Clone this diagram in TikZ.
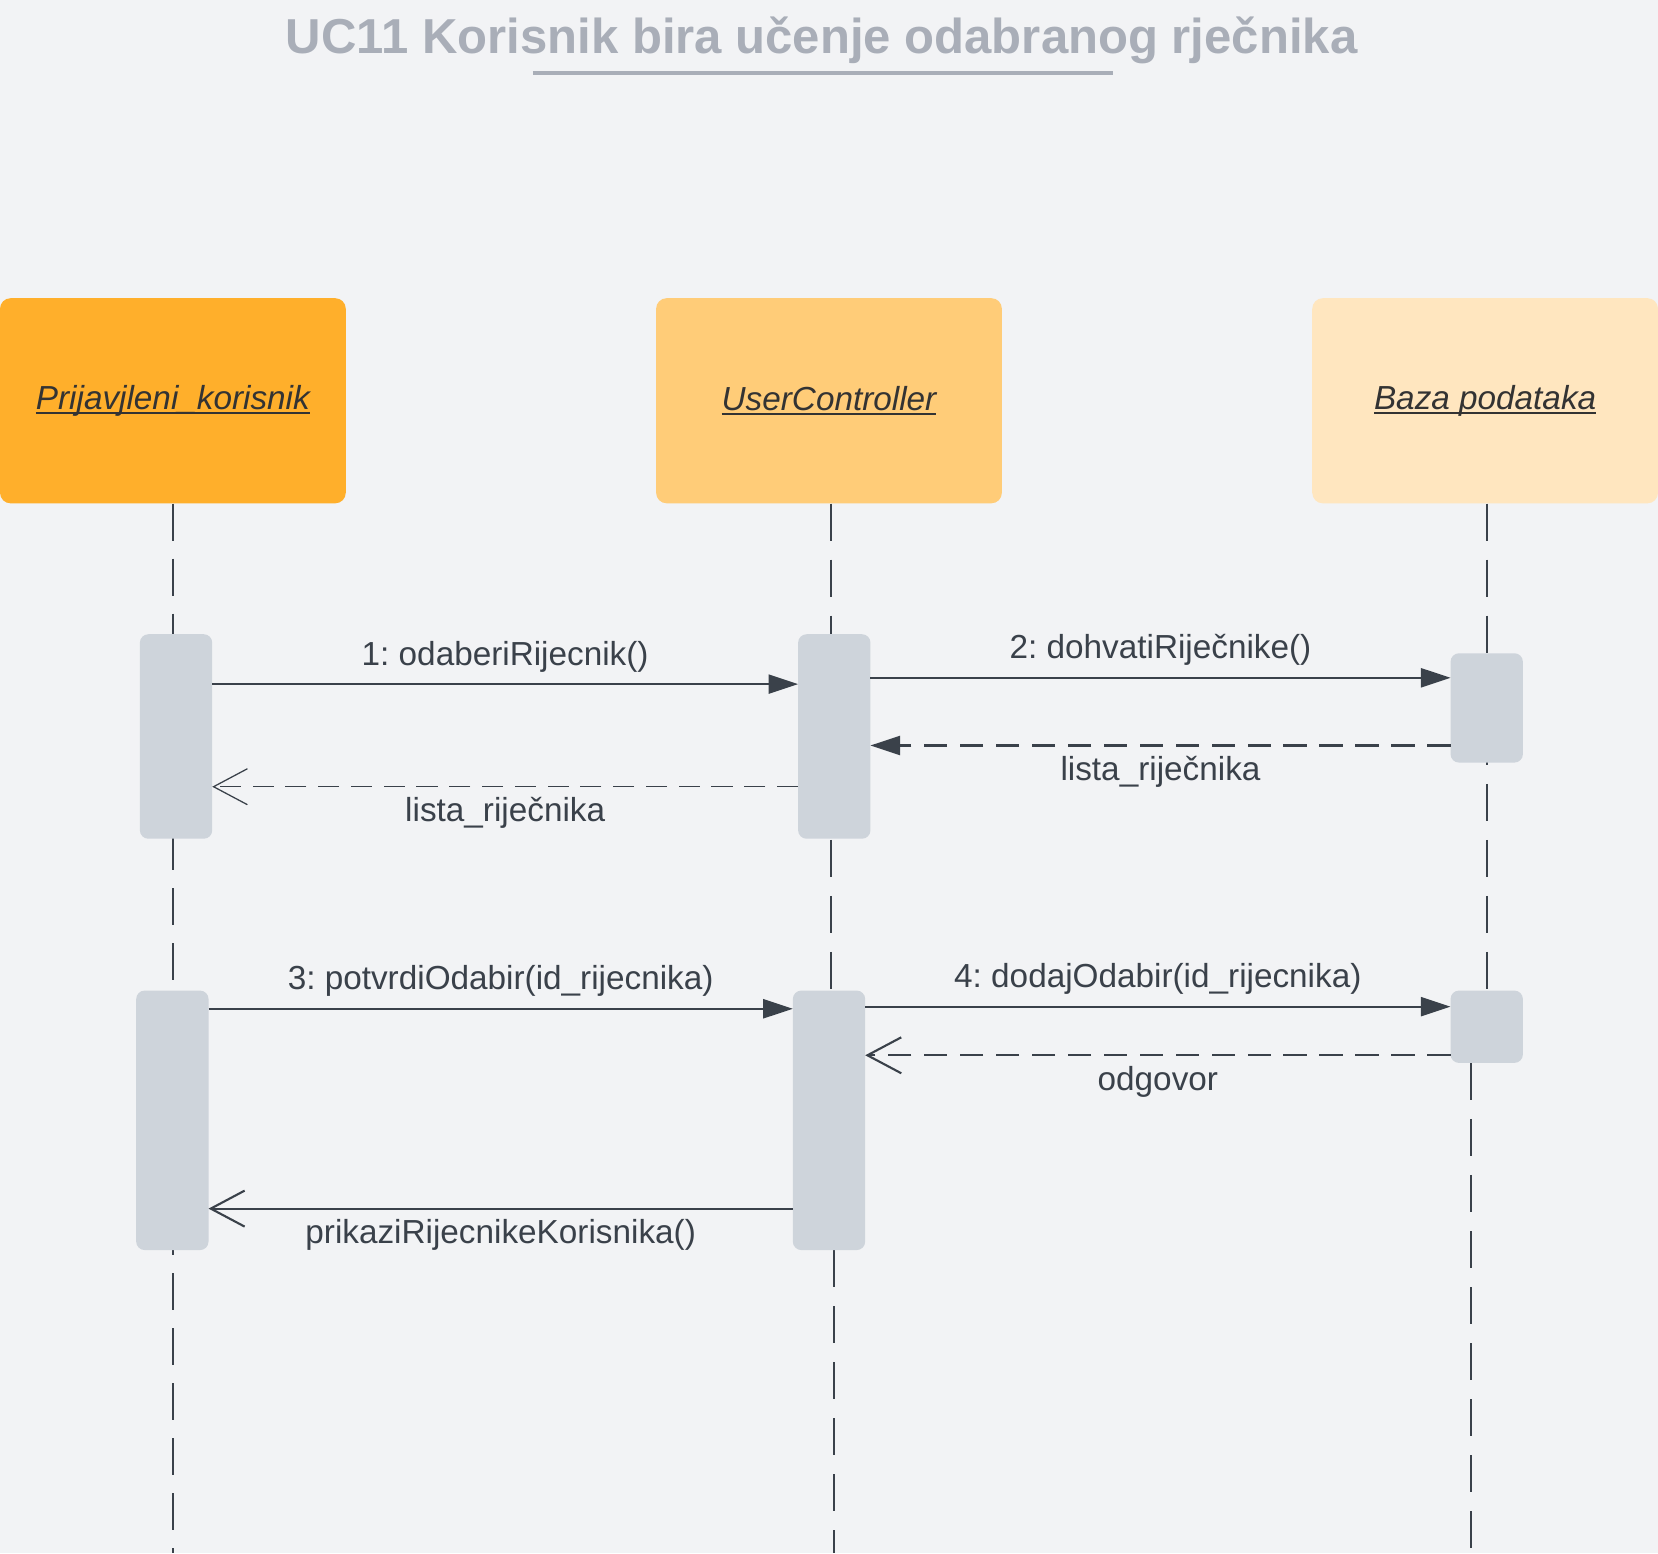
\documentclass[tikz,border=0pt]{standalone}
\usepackage{fontspec}
\setmainfont{Liberation Sans}
\usetikzlibrary{arrows.meta,calc}
\frenchspacing
\definecolor{bgcol}{HTML}{F2F3F5}
\definecolor{orangeA}{HTML}{FFAF2B}
\definecolor{orangeB}{HTML}{FFCC78}
\definecolor{orangeC}{HTML}{FFE6BF}
\definecolor{actcol}{HTML}{CED4DB}
\definecolor{linecol}{HTML}{3A414A}
\definecolor{namecol}{HTML}{333333}
\definecolor{titlecol}{HTML}{A9AEB8}
\newcommand{\labelfont}{\fontsize{31.5}{38}\selectfont}
\newcommand{\titlefont}{\fontsize{46.4}{54}\selectfont\bfseries}
\newsavebox{\objbox}
\newcommand{\objname}[1]{\sbox{\objbox}{\itshape #1}\rlap{\usebox{\objbox}}\rule[-4.3pt]{\wd\objbox}{1.9pt}}
\tikzstyle{participant}=[rectangle,rounded corners=10pt,minimum width=327pt,minimum height=194pt,inner sep=0pt,text=namecol,font=\labelfont]
\tikzstyle{activation}=[rectangle,rounded corners=8pt,fill=actcol,minimum width=68pt,inner sep=0pt]
\tikzstyle{lifeline}=[draw=linecol,line width=2pt,dash pattern=on 35pt off 18pt]
\tikzstyle{call}=[draw=linecol,line width=2pt,-{Triangle[length=28pt,width=18pt]}]
\tikzstyle{reply}=[draw=linecol,line width=2pt,dash pattern=on 22pt off 12pt,-{Straight Barb[length=32pt,width=34pt]}]
\tikzstyle{above label}=[anchor=base,yshift=18pt,text=linecol,font=\labelfont,inner sep=0pt]
\tikzstyle{below label}=[anchor=base,yshift=-33pt,text=linecol,font=\labelfont,inner sep=0pt]
\tikzstyle{title}=[anchor=base,text=titlecol,font=\titlefont,inner sep=0pt]

\begin{document}
\begin{tikzpicture}[x=1pt,y=-1pt]
    % Page and background
    \useasboundingbox (0,0) rectangle (1568,1469);
    \fill[bgcol] (0,0) rectangle (1568,1469);

    % Title
    \node[title] (title) at (777,51) {UC11 Korisnik bira učenje odabranog rječnika};
    \draw[titlecol,line width=3pt] (504,69) -- (1053,69);

    % First we draw the participants
    \foreach \pos/\col/\name/\txt in {{(163.5,379)/orangeA/P1/Prijavjleni\_korisnik},{(784,379)/orangeB/P2/UserController},{(1404.5,379)/orangeC/P3/Baza podataka}}
        \node[participant,fill=\col] (\name) at \pos {\objname{\txt}};

    % Lifeline ends
    \coordinate (e1) at (163.5,1469);
    \coordinate (e2) at (789,1469);
    \coordinate (e3) at (1391,1469);

    % Then the activation bars
    \foreach \pos/\h/\name in {{(166.5,696.5)/193/a1},{(789,696.5)/193/a2},{(1406,669.5)/103/a3},{(163,1059.5)/245/b1},{(784,1059.5)/245/b2},{(1406,971)/68/b3}}
        \path[activation,minimum height=\h pt] node (\name) at \pos {};

    % Lifelines behind the bars
    \draw[lifeline,line width=1.2pt,dash pattern=on 35pt off 17pt] (P1.south) -- (e1);
    \draw[lifeline] ([xshift=2pt]P2.south) -- ([xshift=2pt]P2.south |- b2.north);
    \draw[lifeline] (b2.south -| e2) -- (e2);
    \draw[lifeline] (a3.north |- P3.south) -- (b3.north);
    \draw[lifeline] (b3.south -| e3) -- (e3);

    % Bars again on top of the lifelines
    \foreach \name in {a1,a2,a3,b1,b2,b3}
        \fill[actcol,rounded corners=8pt] (\name.north west) rectangle (\name.south east);

    % Calls
    \foreach \source/\dest/\y/\txt in {a1/a2/647/{1: odaberiRijecnik()},a2/a3/641/{2: dohvatiRiječnike()},b1/b2/954/{3: potvrdiOdabir(id\_rijecnika)},b2/b3/952/{4: dodajOdabir(id\_rijecnika)}}
        \path[call] (\source.east |- 0,\y) -- node[above label] {\txt} (\dest.west |- 0,\y);

    % Replies
    \path[reply,line width=1.2pt,dash pattern=on 20pt off 11pt] (a2.west |- 0,744) -- node[below label] {lista\_riječnika} (a1.east |- 0,744);
    \path[reply,-{Triangle[length=28pt,width=18pt]}] (a3.west |- 0,705) -- node[below label] {lista\_riječnika} (a2.east |- 0,705);
    \path[reply] (b3.west |- 0,998) -- node[below label] {odgovor} (b2.east |- 0,998);
    \path[reply,solid] (b2.west |- 0,1143) -- node[below label] {prikaziRijecnikeKorisnika()} (b1.east |- 0,1143);
\end{tikzpicture}
\end{document}
